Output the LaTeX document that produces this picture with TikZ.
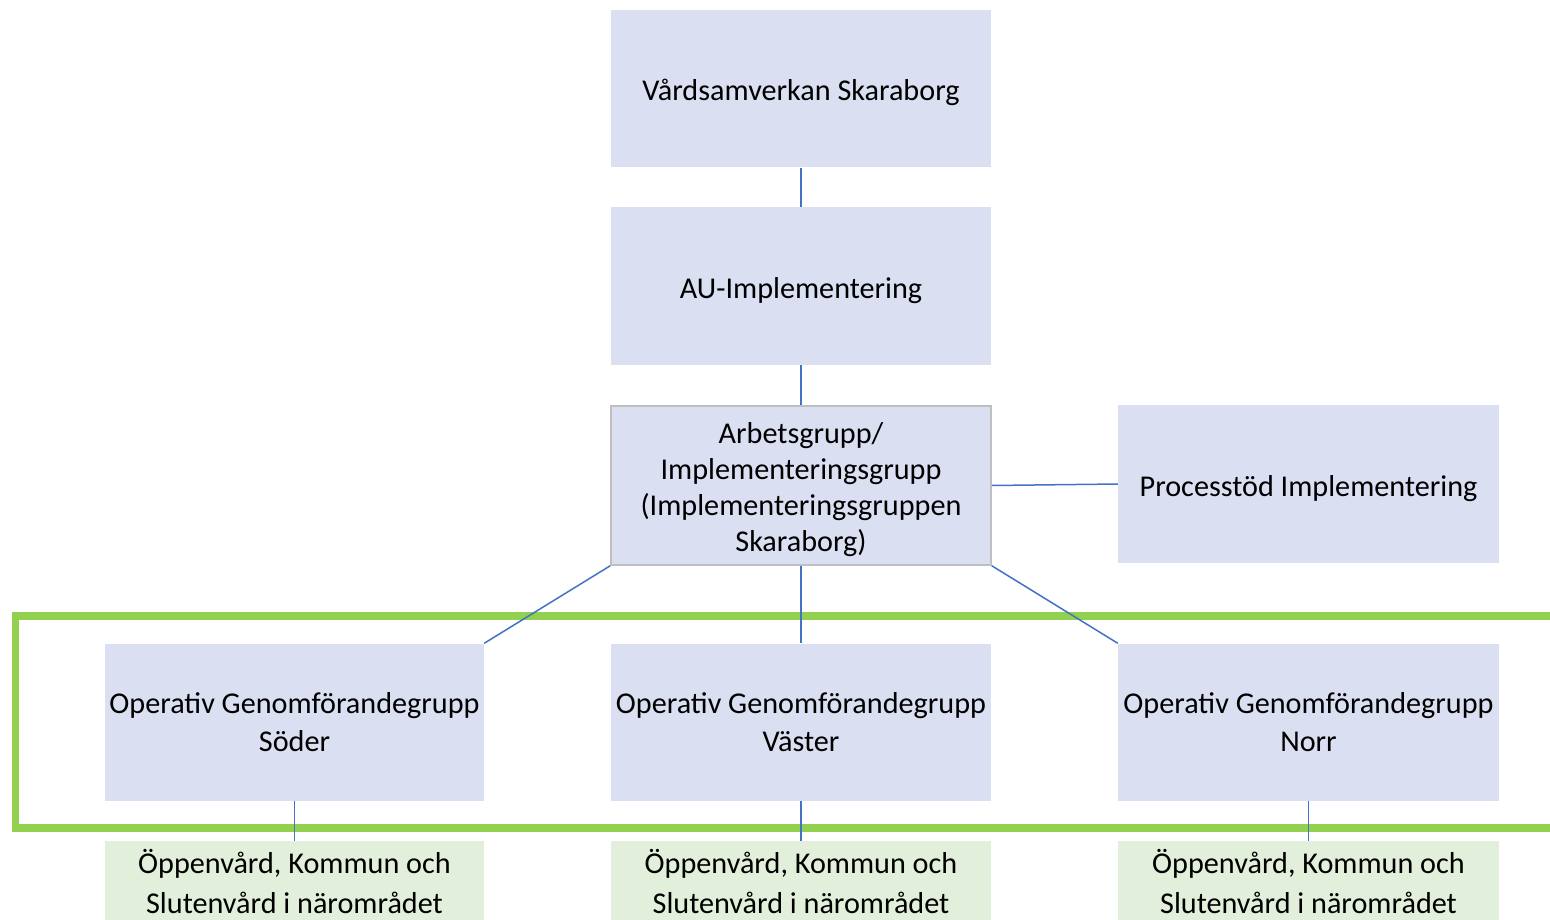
\documentclass[tikz,border=0pt]{standalone}
\usepackage{fontspec}
\setmainfont{Carlito}
\definecolor{boxblue}{HTML}{DAE0F2}
\definecolor{boxgreen}{HTML}{E2EFDA}
\definecolor{framegreen}{HTML}{92D050}
\definecolor{linkblue}{HTML}{4472C4}
\definecolor{bordergray}{HTML}{BFBFBF}
\tikzset{
  orgbox/.style={fill=boxblue, draw=none, inner sep=0pt,
    minimum width=380pt, minimum height=157pt},
  areabox/.style={fill=boxgreen, draw=none, inner sep=0pt,
    minimum width=379pt, minimum height=89pt},
  boxtext/.style={align=center, inner sep=0pt, fill=none, draw=none,
    font=\fontsize{30.2}{36}\selectfont},
  optext/.style={boxtext, font=\fontsize{30.2}{38}\selectfont},
  areatext/.style={boxtext, font=\fontsize{30.2}{40}\selectfont},
  link/.style={draw=linkblue, line width=1.5pt},
  frame/.style={draw=framegreen, line width=7.5pt}
}
\begin{document}
\begin{tikzpicture}[x=1pt,y=-1pt]
\useasboundingbox (0,0) rectangle (1550,920);
\fill[white] (0,0) rectangle (1550,920);

\node[orgbox, label={[boxtext, yshift=-3pt]center:{Vårdsamverkan Skaraborg}}] (vard) at (801,89) {};
\node[orgbox, minimum height=158pt, label={[boxtext, yshift=-5pt]center:{AU-Implementering}}] (au) at (801,286) {};
\node[orgbox, minimum height=159pt, draw=bordergray, line width=1.5pt,
  label={[boxtext, yshift=-4.5pt]center:{Arbetsgrupp/\\Implementeringsgrupp\\(Implementeringsgruppen\\Skaraborg)}}] (arb) at (801,485.5) {};
\node[orgbox, minimum width=381pt, minimum height=158pt,
  label={[boxtext, yshift=-5pt]center:{Processtöd Implementering}}] (proc) at (1308.5,484) {};

\node[orgbox, minimum width=379pt, label={[optext, yshift=-0.5pt]center:{Operativ Genomförandegrupp\\Söder}}] (soder) at (294.5,722) {};
\node[orgbox, label={[optext, yshift=-0.5pt]center:{Operativ Genomförandegrupp\\Väster}}] (vaster) at (801,722) {};
\node[orgbox, minimum width=381pt, label={[optext, yshift=-0.5pt]center:{Operativ Genomförandegrupp\\Norr}}] (norr) at (1308.5,722) {};

\node[areabox, label={[areatext, yshift=4pt]center:{Öppenvård, Kommun och\\Slutenvård i närområdet}}] (a1) at (294.5,885.5) {};
\node[areabox, minimum width=380pt, label={[areatext, yshift=4pt]center:{Öppenvård, Kommun och\\Slutenvård i närområdet}}] (a2) at (801,885.5) {};
\node[areabox, minimum width=381pt, label={[areatext, yshift=4pt]center:{Öppenvård, Kommun och\\Slutenvård i närområdet}}] (a3) at (1308.5,885.5) {};

\draw[frame] (15.5,616) rectangle (1562,828);

\draw[link] (vard.south) -- (au.north);
\draw[link] (au.south) -- (arb.north);
\draw[link] (arb.east) -- (proc.west);
\draw[link] (arb.south west) -- (soder.north east);
\draw[link] (arb.south) -- (vaster.north);
\draw[link] (arb.south east) -- (norr.north west);
\draw[link] (soder.south) -- (a1.north);
\draw[link] (vaster.south) -- (a2.north);
\draw[link] (norr.south) -- (a3.north);
\end{tikzpicture}
\end{document}
